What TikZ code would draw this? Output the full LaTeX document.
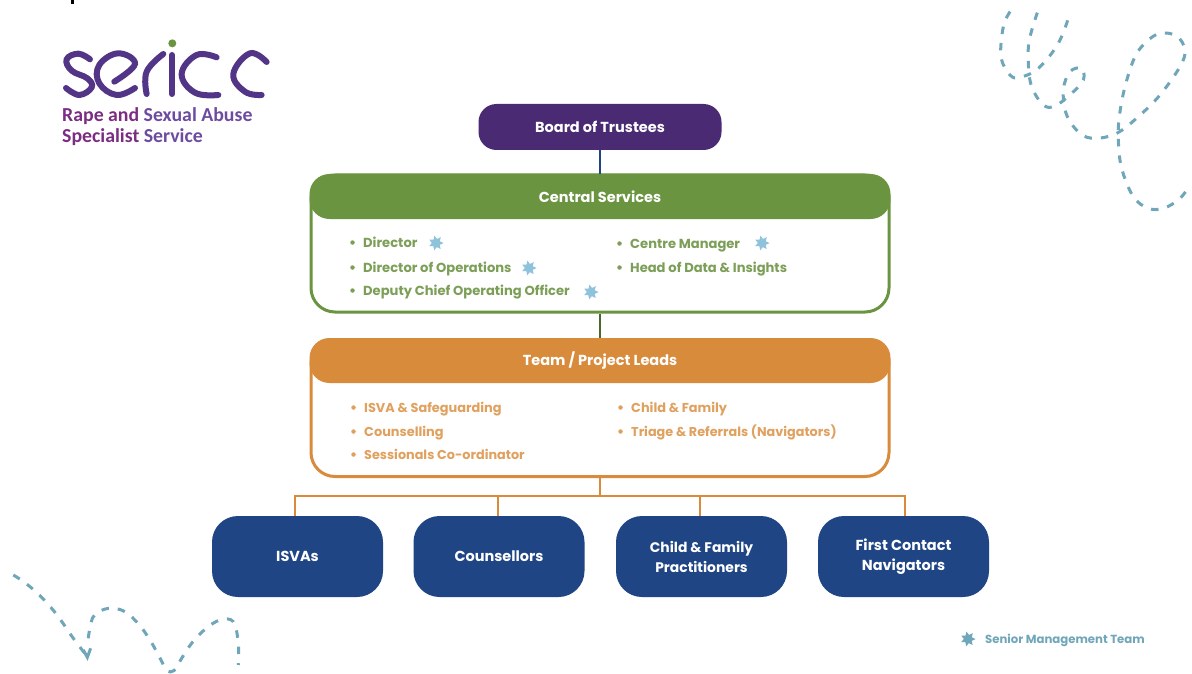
\documentclass[tikz,border=0pt]{standalone}
\usepackage{fontspec}
\setmainfont{Poppins}
\newfontfamily\logofont{Carlito}
\usetikzlibrary{shapes.geometric}
\definecolor{purp}{HTML}{4A2A72}
\definecolor{grn}{HTML}{6A9440}
\definecolor{grntxt}{HTML}{7C9F58}
\definecolor{org}{HTML}{D98B3C}
\definecolor{orgtxt}{HTML}{E0A15F}
\definecolor{navy}{HTML}{1F4585}
\definecolor{deco}{HTML}{70A6BA}
\definecolor{splat}{HTML}{8FC3DC}
\definecolor{logop}{HTML}{523586}
\definecolor{logom}{HTML}{7B2D84}
\definecolor{logov}{HTML}{6C4BA0}
\tikzset{
  title/.style={rounded corners=#1,inner sep=0pt,font=\bfseries\fontsize{14.5}{20}\selectfont,text=white,align=center},
  panel/.style={rounded corners=24pt,line width=3pt,fill=white,draw=#1,minimum width=578pt,minimum height=137pt,inner sep=0pt},
  header/.style={title=20pt,fill=#1,minimum width=581pt,minimum height=45pt},
  teambox/.style={title=26pt,fill=navy,minimum width=171pt,minimum height=81pt},
  item/.style={anchor=base west,inner sep=0pt,font=\bfseries\fontsize{13.1}{15}\selectfont},
  blt/.style={circle,inner sep=0pt,minimum size=4.5pt},
  senior/.style={star,star points=7,star point ratio=1.8,minimum size=15pt,inner sep=0pt,fill=splat,rotate=12},
  link/.style={line width=2pt,draw=#1},
  dashline/.style={draw=deco,line width=3pt,dash pattern=on 7.5pt off 9pt,smooth,tension=0.6},
  logostroke/.style={draw=logop,line width=6pt,line cap=round,smooth,tension=0.7},
}
\newcommand{\listentry}[6]{% name, x, y, colour, text, size
  \node[blt,fill=#4] (#1b) at (#2-10.5,#3-4.5) {};
  \node[item,text=#4,font=\bfseries\fontsize{#6}{15}\selectfont] (#1) at (#2,#3) {#5};
}
\begin{document}
\begin{tikzpicture}[x=1pt,y=-1pt]
\useasboundingbox (0,0) rectangle (1192,674);
\fill[white] (0,0) rectangle (1192,674);
\fill[black] (71,0) rectangle (73.5,4);
% main boxes
\node[title=18pt,fill=purp,minimum width=243pt,minimum height=46pt] (board) at (600,127) {Board of Trustees};
\node[panel=grn] (central) at (600,243.5) {};
\node[header=grn] (centralh) at (600,196.5) {Central Services};
\node[panel=org] (team) at (600,408) {};
\node[header=org] (teamh) at (600,360.5) {Team / Project Leads};
\node[teambox] (isvas) at (297.5,556.5) {ISVAs};
\node[teambox] (couns) at (499,556.5) {Counsellors};
\node[teambox,font=\bfseries\fontsize{13.9}{20}\selectfont] (child) at (701.5,556.5) {Child \& Family\\Practitioners};
\node[teambox] (first) at (903.5,556.5) {First Contact\\Navigators};
% connectors
\coordinate (bus) at (600,496);
\coordinate (d1) at (295,496);
\coordinate (d2) at (498,496);
\coordinate (d3) at (700,496);
\coordinate (d4) at (905,496);
\draw[link=navy] (board.south) -- (centralh.north);
\draw[link=grn!70!black] (central.south) -- (teamh.north);
\draw[link=org] (team.south) -- (bus);
\draw[link=org] (d1 |- isvas.north) -- (d1) -- (d4) -- (d4 |- first.north);
\draw[link=org] (d2) -- (d2 |- couns.north);
\draw[link=org] (d3) -- (d3 |- child.north);
% lists
\listentry{c1}{363}{247}{grntxt}{Director}{13.1}
\listentry{c2}{363}{272}{grntxt}{Director of Operations}{13.1}
\listentry{c3}{363}{295}{grntxt}{Deputy Chief Operating Officer}{13.1}
\listentry{c4}{630}{248}{grntxt}{Centre Manager}{13.1}
\listentry{c5}{630}{272}{grntxt}{Head of Data \& Insights}{13.1}
\listentry{t1}{364}{412}{orgtxt}{ISVA \& Safeguarding}{12.9}
\listentry{t2}{364}{436}{orgtxt}{Counselling}{12.9}
\listentry{t3}{364}{459}{orgtxt}{Sessionals Co-ordinator}{12.8}
\listentry{t4}{631}{412}{orgtxt}{Child \& Family}{12.9}
\listentry{t5}{631}{436}{orgtxt}{Triage \& Referrals (Navigators)}{12.8}
% senior markers
\node[senior] (s1) at (436,243) {};
\node[senior] (s2) at (529,268) {};
\node[senior] (s3) at (591,292) {};
\node[senior] (s4) at (762,243) {};
\node[senior,fill=deco] (s5) at (968,639) {};
\node[anchor=base west,inner sep=0pt,text=deco,font=\bfseries\fontsize{11.7}{13}\selectfont] (legend) at (985,643) {Senior Management Team};
% logo
\begin{scope}[x=0.3333pt,y=-0.3333pt]
\draw[logostroke] plot coordinates {(270,178) (235,161) (200,178) (215,212) (262,235) (275,262) (238,285) (198,264)};
\draw[logostroke] plot coordinates {(343,245) (405,192) (355,160) (298,195) (298,250) (350,285) (405,264)};
\draw[logostroke] plot coordinates {(440,282) (440,215) (490,162)};
\draw[logostroke] (516,165) -- (516,282);
\fill[grn] (517,130) circle[radius=12];
\draw[logostroke] plot coordinates {(650,172) (590,165) (545,222) (585,278) (655,285)};
\draw[logostroke] plot coordinates {(800,186) (750,160) (700,222) (735,275) (785,285)};
\end{scope}
\node[anchor=base west,inner sep=0pt,font=\logofont\bfseries\fontsize{19.8}{24}\selectfont] (logo1) at (62,122) {\textcolor{logom}{Rape and} \textcolor{logov}{Sexual Abuse}};
\node[anchor=base west,inner sep=0pt,font=\logofont\bfseries\fontsize{19.8}{24}\selectfont] (logo2) at (62,143) {\textcolor{logom}{Specialist} \textcolor{logov}{Service}};
% decorative curls
\begin{scope}[shift={(960,0)},x=0.3333pt,y=-0.3333pt]
\draw[dashline] plot coordinates {(150,35) (130,80) (123,170) (150,225) (180,232) (235,205) (295,130) (330,40)};
\draw[dashline] plot coordinates {(232,38) (208,120) (205,190) (215,260) (250,315) (285,318) (335,280) (370,240) (365,205) (330,215) (310,270) (320,345) (360,400) (405,415) (470,400) (535,350) (600,285) (660,200) (675,150) (650,108) (600,100) (560,125) (525,170) (495,260) (478,350) (475,420) (485,505) (520,590) (565,625) (610,625) (655,600) (682,568)};
\end{scope}
\begin{scope}[shift={(0,560)},x=0.3333pt,y=-0.3333pt]
\draw[dashline] plot coordinates {(40,45) (75,68) (118,105) (155,145) (187,187) (220,235) (262,290)};
\draw[dashline,solid] (250,270) -- (262,292) -- (272,265);
\draw[dashline] plot coordinates {(265,235) (280,170) (325,145) (375,155) (418,195) (450,240) (478,290) (500,330) (522,332) (545,295) (575,250) (615,208) (660,180) (700,185) (715,250) (715,315)};
\end{scope}
\end{tikzpicture}
\end{document}
